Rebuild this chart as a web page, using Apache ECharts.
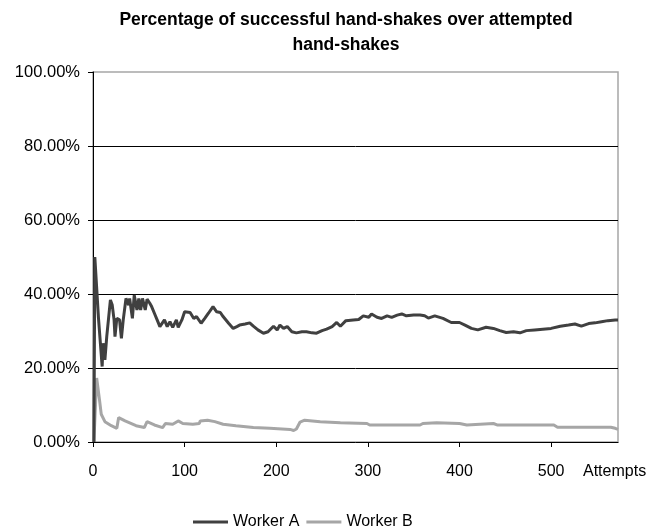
<!DOCTYPE html>
<html>
<head>
<meta charset="utf-8">
<script src="https://cdn.jsdelivr.net/npm/echarts@6/dist/echarts.min.js"></script>
<style>html,body{margin:0;padding:0;background:#fff}#c{width:659px;height:531px}</style>
</head>
<body>
<div id="c"></div>
<script>
var titleText = 'Percentage of successful hand-shakes over attempted\nhand-shakes';
var xAxisName = 'Attempts';
var seriesNames = ['Worker A', 'Worker B'];
var yTicks = [0, 20, 40, 60, 80, 100];
var xTicks = [0, 100, 200, 300, 400, 500];

var workerAAttempts = [1,2,4,6,10,11,13,15,17,19,21,23,24,26,29,31,33,36,39,40,43,45,48,50,52,54,57,59,62,64,67,70,73,75,78,81,84,87,91,93,97,100,106,110,113,118,122,126,131,135,139,142,148,153,157,160,166,171,175,180,186,191,197,201,204,208,212,217,222,228,233,239,244,250,255,261,266,270,276,284,290,295,301,304,310,315,321,326,332,337,342,350,357,362,366,373,382,391,400,406,413,420,429,437,444,451,459,466,473,482,491,500,510,519,526,533,541,548,555,562,570,573];
var workerAPct = [0,50,50,33.4,20.4,26.7,22.2,28.5,28.5,38.4,37,33,28.5,33.4,33,28,33,38.8,37,38.8,33.4,39.7,35.7,38.8,35.7,38.8,35.7,38.6,37.5,36.6,34.8,33,31.2,30.7,33,31.2,32.5,31,33,31,33,35.2,35,33.4,33.9,32.1,33.4,34.8,36.6,35.2,35,33.9,32.1,30.7,31.2,31.6,31.9,32.2,31.3,30.3,29.4,29.8,31.3,30.3,31.6,30.7,31.2,29.8,29.5,29.8,29.8,29.5,29.4,30.1,30.5,31.2,32.3,31.3,32.8,33,33.1,34.1,33.7,34.6,33.7,33.4,34.1,33.7,34.3,34.6,34.1,34.3,34.3,34.1,33.5,34.1,33.4,32.3,32.3,31.6,30.7,30.3,31,30.7,30.1,29.6,29.8,29.5,30.1,30.3,30.5,30.7,31.3,31.6,31.9,31.3,32,32.2,32.5,32.8,33,33];

var workerBAttempts = [1,4,7,9,13,20,26,28,35,47,56,59,67,76,79,87,93,98,109,116,117,125,133,142,156,175,193,215,219,222,226,231,248,270,299,302,357,360,375,400,408,437,441,503,507,565,570,573];
var workerBPct = [0,17.3,11.6,7.5,5.5,4.4,3.7,6.6,5.7,4.4,3.9,5.5,4.6,3.9,5.0,4.8,5.7,5.0,4.8,5.0,5.7,5.9,5.5,4.8,4.4,3.9,3.7,3.4,3.1,3.5,5.4,5.9,5.5,5.2,5.0,4.6,4.6,5.0,5.2,5.0,4.6,5.0,4.6,4.6,4.0,4.0,3.7,3.4];

function pairs(xs, ys) { return xs.map(function (x, i) { return [x, ys[i]]; }); }

var chart = echarts.init(document.getElementById('c'), null, { renderer: 'canvas' });
var font = 'Liberation Sans, Arial, sans-serif';
chart.setOption({
  animation: false,
  backgroundColor: '#ffffff',
  textStyle: { fontFamily: font, color: '#000' },
  title: {
    text: titleText,
    left: 341,
    top: 3,
    textAlign: 'center',
    textStyle: { fontFamily: font, fontSize: 17.5, fontWeight: 'bold', color: '#000', lineHeight: 25 }
  },
  legend: {
    left: 193,
    top: 514,
    padding: 0,
    itemWidth: 35,
    itemHeight: 14,
    itemGap: 7,
    icon: 'path://M0,6 L35,6 L35,9 L0,9 Z',
    textStyle: { fontFamily: font, fontSize: 16, color: '#000' },
    data: seriesNames
  },
  grid: {
    left: 93, top: 72, right: 41, bottom: 89,
    show: true, borderColor: '#a6a6a6', borderWidth: 1.5, backgroundColor: '#fff'
  },
  xAxis: {
    type: 'value', min: 0, max: 573, interval: 100,
    name: xAxisName, nameLocation: 'end', nameGap: -35,
    nameTextStyle: { fontFamily: font, fontSize: 16, color: '#000', align: 'left', verticalAlign: 'top', padding: [22, 0, 0, 0] },
    axisLine: { show: true, lineStyle: { color: '#000', width: 1 } },
    axisTick: { show: true, length: 5, lineStyle: { color: '#000' } },
    axisLabel: { fontFamily: font, fontSize: 16, color: '#000', margin: 22, showMaxLabel: false,
      formatter: function (v) { return xTicks.indexOf(v) >= 0 ? String(v) : ''; } },
    splitLine: { show: false }
  },
  yAxis: {
    type: 'value', min: 0, max: 100, interval: 20,
    axisLine: { show: true, lineStyle: { color: '#000', width: 1 } },
    axisTick: { show: true, length: 5, lineStyle: { color: '#000' } },
    axisLabel: { fontFamily: font, fontSize: 16.5, color: '#000', margin: 13,
      formatter: function (v) { return yTicks.indexOf(v) >= 0 ? v.toFixed(2) + '%' : ''; } },
    splitLine: { show: true, showMinLine: false, showMaxLine: false, lineStyle: { color: '#000', width: 1 } }
  },
  series: [
    { name: seriesNames[0], type: 'line', data: pairs(workerAAttempts, workerAPct), symbol: 'none',
      lineStyle: { color: '#404040', width: 3 }, itemStyle: { color: '#404040' }, z: 3 },
    { name: seriesNames[1], type: 'line', data: pairs(workerBAttempts, workerBPct), symbol: 'none',
      lineStyle: { color: '#a6a6a6', width: 3 }, itemStyle: { color: '#a6a6a6' }, z: 2 }
  ]
});
</script>
</body>
</html>
